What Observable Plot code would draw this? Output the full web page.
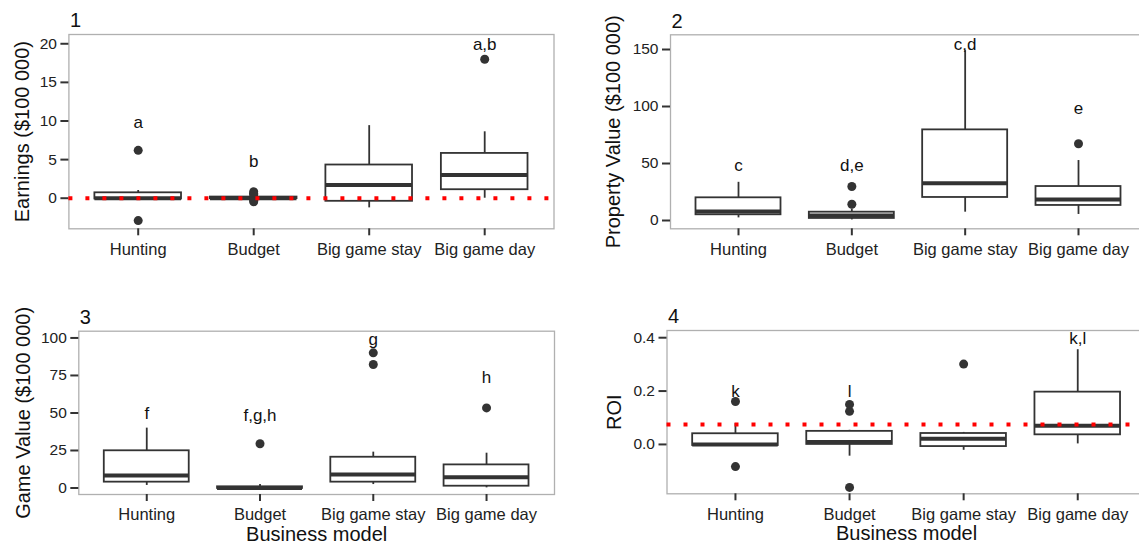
<!DOCTYPE html>
<html><head><meta charset="utf-8">
<script src="https://cdn.jsdelivr.net/npm/d3@7"></script>
<script src="https://cdn.jsdelivr.net/npm/@observablehq/plot@0.6"></script>
<style>
html,body{margin:0;padding:0;background:#fff;overflow:hidden;}
#root{position:relative;width:1139px;height:545px;overflow:hidden;background:#fff;}
#root > svg{position:absolute;max-width:none;}
</style></head><body><div id="root"></div>
<script>
const categories = ["Hunting", "Budget", "Big game stay", "Big game day"];

// Panel 1: Earnings ($100 000)
const earnLow  = [-0.1, -0.15, -1.25, 0.0];
const earnQ1   = [-0.1, -0.05, -0.4, 1.1];
const earnMed  = [0.0, 0.0, 1.7, 3.0];
const earnQ3   = [0.7, 0.15, 4.3, 5.8];
const earnHigh = [1.0, 0.3, 9.4, 8.6];
const earnOutCat = [1, 1, 2, 2, 2, 2, 2, 4];
const earnOutVal = [6.2, -2.9, 0.85, 0.6, 0.45, -0.3, -0.45, 18.0];
const earnLetters = ["a", "b", "", "a,b"];
const earnLetterY = [9.8, 4.8, null, 19.9];
const earnTicks = [0, 5, 10, 15, 20];

// Panel 2: Property Value ($100 000)
const propLow  = [2.3, 0.5, 7.3, 5.3];
const propQ1   = [5.0, 1.8, 20.2, 13.2];
const propMed  = [7.9, 4.4, 32.7, 18.4];
const propQ3   = [19.9, 7.3, 79.5, 29.8];
const propHigh = [33.5, 10.0, 149, 52.6];
const propOutCat = [2, 2, 4];
const propOutVal = [14.3, 29.8, 67.3];
const propLetters = ["c", "d,e", "c,d", "e"];
const propLetterY = [48.5, 48.5, 154, 98.5];
const propTicks = [0, 50, 100, 150];

// Panel 3: Game Value ($100 000)
const gameLow  = [1.7, -0.3, 2.3, 0.1];
const gameQ1   = [3.9, -0.3, 3.9, 1.2];
const gameMed  = [8.3, 0.0, 9.0, 7.2];
const gameQ3   = [24.8, 0.8, 20.5, 15.4];
const gameHigh = [39.9, 2.3, 23.9, 23.2];
const gameOutCat = [2, 3, 3, 4];
const gameOutVal = [29.5, 82.3, 90.1, 53.4];
const gameLetters = ["f", "f,g,h", "g", "h"];
const gameLetterY = [49.5, 48.3, 99.2, 73.9];
const gameTicks = [0, 25, 50, 75, 100];

// Panel 4: ROI
const roiLow  = [-0.004, -0.044, -0.022, 0.002];
const roiQ1   = [-0.004, 0.0, -0.008, 0.036];
const roiMed  = [0.0, 0.009, 0.021, 0.07];
const roiQ3   = [0.04, 0.049, 0.041, 0.196];
const roiHigh = [0.078, 0.053, 0.045, 0.355];
const roiOutCat = [1, 1, 2, 2, 2, 3];
const roiOutVal = [0.161, -0.083, 0.124, 0.15, -0.161, 0.301];
const roiLetters = ["k", "l", "", "k,l"];
const roiLetterY = [0.2, 0.2, null, 0.396];
const roiTicks = [0, 0.2, 0.4];

const INK = "#333";
const FONT = "'Liberation Sans', Arial, Helvetica, sans-serif";
const HALF = 0.375;

function panel(cfg) {
  const rows = categories.map((c, k) => ({
    i: k + 1, low: cfg.low[k], q1: cfg.q1[k], med: cfg.med[k], q3: cfg.q3[k], high: cfg.high[k]
  }));
  const outs = cfg.outCat.map((c, k) => ({i: c, v: cfg.outVal[k]}));
  const lets = cfg.letters.map((t, k) => ({i: k + 1, t, v: cfg.letterY[k]})).filter(d => d.t);
  const marks = [
    Plot.frame({stroke: "#b0b0b0", strokeWidth: 1.3}),
    Plot.axisX({ticks: [1, 2, 3, 4], tickFormat: i => categories[i - 1], tickSize: 7, tickPadding: 7,
      stroke: INK, strokeWidth: 2, fill: "#222", fontSize: 16.5, label: null}),
    Plot.axisY({ticks: cfg.ticks, tickFormat: cfg.tickFormat, tickSize: 8, tickPadding: 4,
      stroke: INK, strokeWidth: 2, fill: "#222", fontSize: 15.5, label: null}),
    Plot.ruleX(rows, {x: "i", y1: "low", y2: "q1", stroke: INK, strokeWidth: 1.8}),
    Plot.ruleX(rows, {x: "i", y1: "q3", y2: "high", stroke: INK, strokeWidth: 1.8}),
    Plot.rect(rows, {x1: d => d.i - HALF, x2: d => d.i + HALF, y1: "q1", y2: "q3",
      fill: "white", stroke: INK, strokeWidth: 1.8}),
    Plot.ruleY(rows, {y: "med", x1: d => d.i - HALF, x2: d => d.i + HALF, stroke: INK, strokeWidth: 4}),
    Plot.dot(outs, {x: "i", y: "v", r: 4.5, fill: INK, stroke: null})
  ];
  if (cfg.ref != null) {
    marks.push(Plot.ruleY([cfg.ref], {stroke: "#f00", strokeWidth: 4, strokeDasharray: "4,13"}));
  }
  marks.push(
    Plot.text(lets, {x: "i", y: "v", text: "t", fontSize: 17, fill: "#111"}),
    Plot.text([cfg.num], {frameAnchor: "top-left", textAnchor: "start", lineAnchor: "middle",
      dx: 1, dy: cfg.numDy, fontSize: 20, fill: "#111"}),
    Plot.text([cfg.ylabel], {frameAnchor: "left", textAnchor: "middle", lineAnchor: "middle",
      rotate: -90, dx: cfg.titleDx, fontSize: 20, fill: "#111"})
  );
  if (cfg.xlabel) {
    marks.push(Plot.text([cfg.xlabel], {frameAnchor: "bottom", textAnchor: "middle", lineAnchor: "middle",
      dy: 40, fontSize: 20, fill: "#111"}));
  }
  const svg = Plot.plot({
    width: cfg.width, height: cfg.height,
    marginLeft: cfg.m[3], marginRight: cfg.m[1], marginTop: cfg.m[0], marginBottom: cfg.m[2],
    x: {type: "linear", domain: [0.4, 4.6]},
    y: {domain: cfg.yDomain},
    style: {fontFamily: FONT, fontSize: "16px", color: INK, background: "transparent", overflow: "visible"},
    marks
  });
  svg.style.left = cfg.left + "px";
  svg.style.top = cfg.top + "px";
  svg.style.maxWidth = "none";
  document.getElementById("root").appendChild(svg);
}

panel({num: "1", ylabel: "Earnings ($100 000)", left: 0, top: 0, width: 570, height: 270,
  m: [34, 16.5, 41.7, 68.4], yDomain: [-3.96, 21.2], ticks: earnTicks, tickFormat: d3.format("d"),
  low: earnLow, q1: earnQ1, med: earnMed, q3: earnQ3, high: earnHigh,
  outCat: earnOutCat, outVal: earnOutVal, letters: earnLetters, letterY: earnLetterY,
  ref: 0, titleDx: -46, numDy: -14});

panel({num: "2", ylabel: "Property Value ($100 000)", left: 570, top: 0, width: 590, height: 270,
  m: [34.3, 14, 41.7, 100], yDomain: [-7.28, 162.9], ticks: propTicks, tickFormat: d3.format("d"),
  low: propLow, q1: propQ1, med: propMed, q3: propQ3, high: propHigh,
  outCat: propOutCat, outVal: propOutVal, letters: propLetters, letterY: propLetterY,
  ref: null, titleDx: -57, numDy: -13});

panel({num: "3", ylabel: "Game Value ($100 000)", xlabel: "Business model", left: 0, top: 270, width: 570, height: 275,
  m: [60.7, 16, 51, 78.3], yDomain: [-4.33, 104.5], ticks: gameTicks, tickFormat: d3.format("d"),
  low: gameLow, q1: gameQ1, med: gameMed, q3: gameQ3, high: gameHigh,
  outCat: gameOutCat, outVal: gameOutVal, letters: gameLetters, letterY: gameLetterY,
  ref: null, titleDx: -55.6, numDy: -14});

panel({num: "4", ylabel: "ROI", xlabel: "Business model", left: 570, top: 270, width: 590, height: 275,
  m: [60, 14.3, 51.7, 96.5], yDomain: [-0.185, 0.427], ticks: roiTicks, tickFormat: d3.format(".1f"),
  low: roiLow, q1: roiQ1, med: roiMed, q3: roiQ3, high: roiHigh,
  outCat: roiOutCat, outVal: roiOutVal, letters: roiLetters, letterY: roiLetterY,
  ref: 0.075, titleDx: -52, numDy: -13.5});
</script>
</body></html>
